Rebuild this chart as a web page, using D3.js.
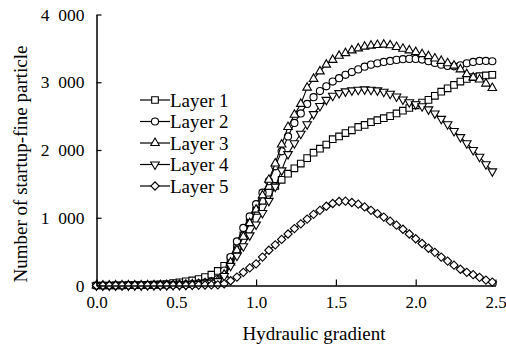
<!DOCTYPE html>
<html><head><meta charset="utf-8">
<script src="https://cdn.jsdelivr.net/npm/d3@7"></script>
<style>body{margin:0;background:#fff}svg{display:block}text{font-family:"Liberation Serif";fill:#000}</style>
</head><body><svg id="c" width="506" height="345"></svg>
<script>
const gradient = [0,0.04,0.08,0.12,0.16,0.2,0.24,0.28,0.32,0.36,0.4,0.44,0.48,0.52,0.56,0.6,0.64,0.68,0.72,0.76,0.8,0.84,0.88,0.92,0.96,1.0,1.04,1.08,1.12,1.16,1.2,1.24,1.28,1.32,1.36,1.4,1.44,1.48,1.52,1.56,1.6,1.64,1.68,1.72,1.76,1.8,1.84,1.88,1.92,1.96,2.0,2.04,2.08,2.12,2.16,2.2,2.24,2.28,2.32,2.36,2.4,2.44,2.48];
const layer1 = [0,0,0,2,3,4,5,7,9,12,15,22,35,48,62,74,95,125,160,215,290,400,560,740,930,1100,1250,1370,1470,1560,1650,1730,1800,1880,1960,2020,2080,2160,2200,2250,2290,2340,2370,2410,2440,2470,2500,2540,2580,2620,2660,2700,2740,2800,2860,2910,2960,3010,3050,3075,3090,3100,3110];
const layer2 = [0,0,0,1,1,2,2,3,4,5,6,8,10,13,17,22,30,42,60,95,220,420,650,850,1020,1200,1370,1540,1760,1980,2200,2400,2540,2680,2780,2870,2940,3010,3060,3110,3150,3190,3230,3260,3280,3300,3315,3330,3340,3345,3345,3335,3310,3285,3260,3240,3235,3250,3280,3300,3315,3315,3310];
const layer3 = [0,0,0,1,1,1,2,2,3,4,5,6,8,10,13,17,23,32,45,70,160,340,520,720,920,1120,1330,1560,1800,2080,2340,2520,2680,2920,3050,3160,3260,3330,3390,3430,3470,3500,3525,3540,3550,3555,3545,3520,3495,3470,3445,3415,3385,3350,3315,3280,3245,3190,3120,3070,3040,2980,2915];
const layer4 = [0,0,0,1,1,1,2,2,3,3,4,5,7,9,12,16,22,30,42,65,140,290,440,580,740,900,1070,1250,1460,1700,1940,2100,2240,2380,2530,2650,2740,2800,2840,2865,2880,2890,2895,2890,2880,2860,2830,2790,2745,2705,2675,2645,2600,2540,2460,2380,2280,2190,2100,2000,1900,1790,1685];
const layer5 = [0,0,0,0,1,1,1,1,2,2,2,3,3,4,4,5,6,7,8,10,25,70,125,195,260,320,420,520,600,680,760,840,910,980,1050,1110,1170,1210,1240,1245,1225,1200,1160,1110,1060,1010,950,890,830,760,690,620,550,490,420,360,300,240,195,160,120,80,50];
const seriesNames = ["Layer 1","Layer 2","Layer 3","Layer 4","Layer 5"];
const seriesValues = [layer1,layer2,layer3,layer4,layer5];
const xTicks = [0,0.5,1.0,1.5,2.0,2.5];
const xTickLabels = ["0.0","0.5","1.0","1.5","2.0","2.5"];
const yTicks = [0,1000,2000,3000,4000];
const yTickLabels = ["0","1\u2002000","2\u2002000","3\u2002000","4\u2002000"];
const xTitle = "Hydraulic gradient";
const yTitle = "Number of startup-fine particle";

const svg = d3.select("#c");
const x = d3.scaleLinear().domain([0,2.5]).range([96.5,495.5]);
const y = d3.scaleLinear().domain([0,4000]).range([285.5,14.5]);

const markerShapes = [
  {type:d3.symbolSquare,size:44,rot:0},
  {type:d3.symbolCircle,size:40,rot:0},
  {type:d3.symbolTriangle,size:32,rot:0},
  {type:d3.symbolTriangle,size:32,rot:180},
  {type:d3.symbolSquare,size:34,rot:45}
];

const line = d3.line().x((d,i)=>x(gradient[i])).y(d=>y(d));
seriesValues.forEach((vals,si)=>{
  const g = svg.append("g");
  g.append("path").attr("d",line(vals)).attr("fill","none").attr("stroke","#000").attr("stroke-width",1.1);
  const m = markerShapes[si];
  const sym = d3.symbol().type(m.type).size(m.size);
  g.selectAll("path.m").data(vals).join("path").attr("class","m")
    .attr("d",sym)
    .attr("transform",(d,i)=>`translate(${x(gradient[i])},${y(d)}) rotate(${m.rot})`)
    .attr("fill","#fff").attr("stroke","#000").attr("stroke-width",1.1);
});

// axes
const xAxis = d3.axisBottom(x).tickValues(xTicks).tickSizeInner(-6).tickSizeOuter(0).tickPadding(10).tickFormat((d,i)=>xTickLabels[i]);
const gx = svg.append("g").attr("transform","translate(0,285.5)").call(xAxis);
gx.attr("font-family",null);
gx.select(".domain").attr("stroke-width",1.5);
gx.selectAll(".tick line").attr("stroke-width",1.2);
gx.selectAll(".tick text").attr("font-size",17);

const yAxis = d3.axisLeft(y).tickValues(yTicks).tickSizeInner(-5).tickSizeOuter(0).tickPadding(12).tickFormat((d,i)=>yTickLabels[i]);
const gy = svg.append("g").attr("transform","translate(96.5,0)").call(yAxis);
gy.attr("font-family",null);
gy.select(".domain").attr("stroke-width",1.5);
gy.selectAll(".tick line").attr("stroke-width",1.2);
gy.selectAll(".tick text").attr("font-size",17.5);

svg.append("text").attr("x",314).attr("y",340).attr("text-anchor","middle").attr("font-size",19).text(xTitle);
svg.append("text").attr("transform","translate(27,164) rotate(-90)").attr("text-anchor","middle").attr("font-size",19).text(yTitle);

// legend
const legend = svg.append("g");
seriesNames.forEach((nm,i)=>{
  const ly = 100 + i*21.5;
  legend.append("line").attr("x1",140).attr("x2",170).attr("y1",ly).attr("y2",ly).attr("stroke","#000").attr("stroke-width",1.2);
  const m = markerShapes[i];
  legend.append("path").attr("d",d3.symbol().type(m.type).size(m.size)())
    .attr("transform",`translate(155,${ly}) rotate(${m.rot})`).attr("fill","#fff").attr("stroke","#000").attr("stroke-width",1.1);
  legend.append("text").attr("x",170).attr("y",ly+6.5).attr("font-size",19).text(nm);
});
</script></body></html>
